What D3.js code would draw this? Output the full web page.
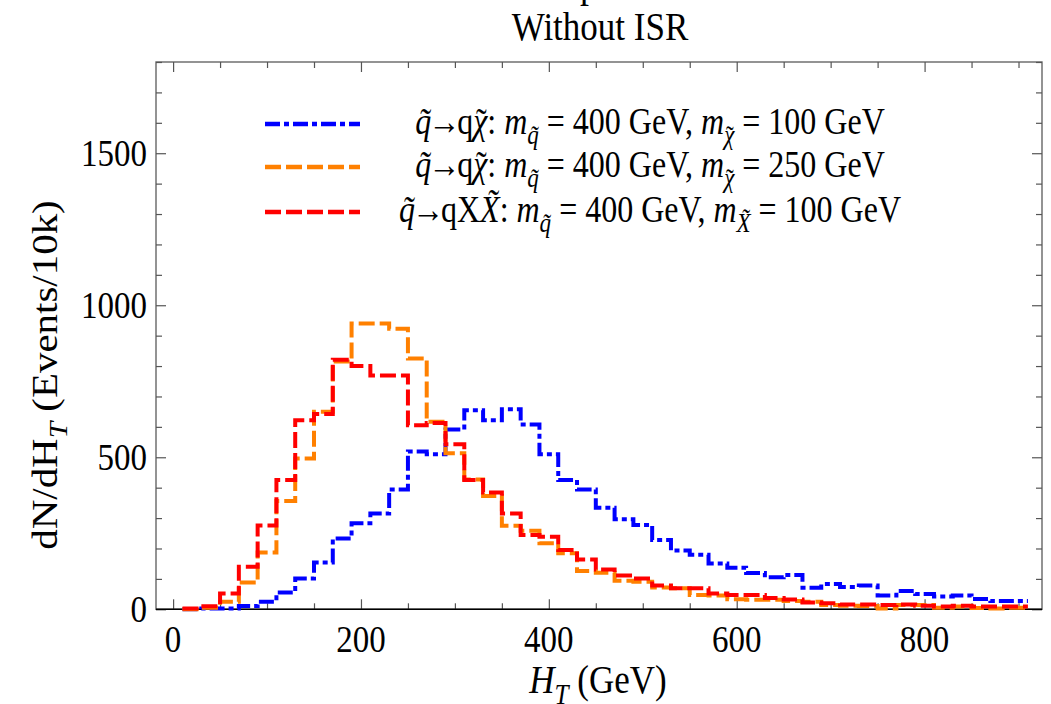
<!DOCTYPE html>
<html><head><meta charset="utf-8">
<script src="https://cdn.jsdelivr.net/npm/d3@7"></script>
<style>body{margin:0;background:#fff} svg{display:block}</style>
</head><body>
<svg id="c" width="1051" height="704"></svg>
<script>
// ---- data ----
const binCenters = [20,40,60,80,100,120,140,160,180,200,220,240,260,280,300,320,340,360,380,400,420,440,460,480,500,520,540,560,580,600,620,640,660,680,700,720,740,760,780,800,820,840,860,880,900];
const binWidth = 20;
const blueValues   = [0,3,3,11,25,55,101,154,233,283,315,394,519,510,591,655,622,658,608,510,425,394,334,296,277,228,193,179,151,137,119,105,113,71,83,73,78,45,60,50,42,45,34,27,27];
const orangeValues = [0,5,25,88,187,356,496,650,815,940,940,923,825,617,513,427,373,275,258,217,184,126,120,94,91,72,69,47,45,33,31,31,27,25,14,12,11,3,14,14,5,9,4,3,5];
const redValues    = [3,10,52,140,276,425,622,642,821,800,769,769,605,613,543,425,384,315,244,239,195,164,131,111,101,78,69,69,52,47,47,37,32,22,20,16,16,14,16,12,9,12,9,9,9];
const xTickValues = [0,200,400,600,800];
const yTickValues = [0,500,1000,1500];
const xDomain = [-18.2, 925];
const yDomain = [0, 1800];
const titleText = "Without ISR";
// segments: t=text, i=italic, s=subscript, tl=manual tilde over this glyph (glyph width in em), a=arrow
const legendLabels = [
  [{t:"q\u0303",i:1},{t:"\u2192",a:1},{t:"q"},{t:"\u03C7",i:1,tl:0.5},{t:": "},{t:"m",i:1},{t:"q\u0303",i:1,s:1},{t:" = 400 GeV, "},{t:"m",i:1},{t:"\u03C7",i:1,s:1,tl:0.5},{t:" = 100 GeV"}],
  [{t:"q\u0303",i:1},{t:"\u2192",a:1},{t:"q"},{t:"\u03C7",i:1,tl:0.5},{t:": "},{t:"m",i:1},{t:"q\u0303",i:1,s:1},{t:" = 400 GeV, "},{t:"m",i:1},{t:"\u03C7",i:1,s:1,tl:0.5},{t:" = 250 GeV"}],
  [{t:"q\u0303",i:1},{t:"\u2192",a:1},{t:"qX"},{t:"X\u0303",i:1},{t:": "},{t:"m",i:1},{t:"q\u0303",i:1,s:1},{t:" = 400 GeV, "},{t:"m",i:1},{t:"X\u0303",i:1,s:1},{t:" = 100 GeV"}]
];
const seriesColors = ["#0000ff","#ff8000","#ff0000"];
const seriesDash = ["15,4,5,4","16,5","16,5"];

// ---- layout ----
const L=156, R=1042, T=62, B=609.3;
const K=1.17; // vertical text stretch
const FONT="'Liberation Serif','Times New Roman',serif";
const svg=d3.select("#c");
const x=d3.scaleLinear().domain(xDomain).range([L,R]);
const y=d3.scaleLinear().domain(yDomain).range([B,T]);

function richText(parent, px, py, segs, size, anchor, rot){
  const g=parent.append("g").attr("transform",`translate(${px},${py}) scale(1,${K})`+(rot?` rotate(${rot})`:""));
  const t=g.append("text").attr("font-family",FONT).attr("font-size",size).attr("text-anchor",anchor||"start").attr("fill","#000");
  let cur=0, pendDx=0;
  segs.forEach(s=>{
    const fs=s.s?size*0.72:size;
    const target=s.s?size*0.28:0;
    const sp=t.append("tspan").text(s.t).attr("font-size",fs);
    if(target!==cur){ sp.attr("dy",target-cur); cur=target; }
    let dx=pendDx; pendDx=0;
    if(s.a){ dx-=3; pendDx=-3; }
    if(dx) sp.attr("dx",dx);
    if(s.i) sp.attr("font-style","italic");
    if(s.tl){
      const cw=s.tl*fs, tw=0.333*fs, sk=0.06*fs;
      const tilde=t.append("tspan").text("\u02DC").attr("font-size",fs)
        .attr("dx",-(cw/2+tw/2)+sk).attr("dy",fs*0.02);
      cur+=fs*0.02;
      const back=target-cur;
      pendDx += cw/2 - tw/2 - sk;
      // restore baseline on next tspan
      cur=cur; // next tspan handles dy relative to cur
    }
  });
  return t;
}

// cut-off line of upper title
richText(svg, 589, -3, [{t:"p"}], 36, "middle");
// title
richText(svg, 600, 40, [{t:titleText}], 35, "middle");

// frame
svg.append("rect").attr("x",L).attr("y",T).attr("width",R-L).attr("height",B-T)
  .attr("fill","none").attr("stroke","#666").attr("stroke-width",1.4);

// axes
const xt=d3.range(0,901,50), yt=d3.range(0,1801,100);
const ax=svg.append("g").attr("transform",`translate(0,${B})`).call(d3.axisBottom(x).tickValues(xt).tickFormat(""));
const axT=svg.append("g").attr("transform",`translate(0,${T})`).call(d3.axisTop(x).tickValues(xt).tickFormat(""));
const ay=svg.append("g").attr("transform",`translate(${L},0)`).call(d3.axisLeft(y).tickValues(yt).tickFormat(""));
const ayR=svg.append("g").attr("transform",`translate(${R},0)`).call(d3.axisRight(y).tickValues(yt).tickFormat(""));
[ax,axT,ay,ayR].forEach(a=>{a.select(".domain").remove(); a.selectAll("line").attr("stroke","#555").attr("stroke-width",1.2);});
ax.selectAll(".tick line").attr("y2",d=>d%200===0?-10:-6);
axT.selectAll(".tick line").attr("y2",d=>d%200===0?10:6);
ay.selectAll(".tick line").attr("x2",d=>d%500===0?10:6);
ayR.selectAll(".tick line").attr("x2",d=>d%500===0?-10:-6);
// zero axis line
svg.append("line").attr("x1",L).attr("x2",R).attr("y1",y(0)).attr("y2",y(0)).attr("stroke","#000").attr("stroke-width",1.5);

// tick labels
xTickValues.forEach(v=>richText(svg, x(v), 652, [{t:String(v)}], 33, "middle"));
yTickValues.forEach(v=>richText(svg, 147, y(v)+13, [{t:String(v)}], 33, "end"));

// axis titles
richText(svg, 598, 693, [{t:"H",i:1},{t:"T",i:1,s:1},{t:" (GeV)"}], 35, "middle");
richText(svg, 57, 375, [{t:"dN/dH"},{t:"T",i:1,s:1},{t:" (Events/10k)"}], 35, "middle", -90);

// histograms
const line=d3.line().x(d=>x(d[0])).y(d=>y(d[1])).curve(d3.curveStepAfter);
function pts(vals){const p=binCenters.map((c,i)=>[c-binWidth/2,vals[i]]); p.push([binCenters[binCenters.length-1]+binWidth/2, vals[vals.length-1]]); return p;}
[blueValues,orangeValues,redValues].forEach((vals,i)=>{
  svg.append("path").attr("d",line(pts(vals))).attr("fill","none")
    .attr("stroke",seriesColors[i]).attr("stroke-width",4).attr("stroke-dasharray",seriesDash[i]);
});

// legend
const legY=[124,167,212];
legendLabels.forEach((lab,i)=>{
  svg.append("line").attr("x1",265).attr("x2",360).attr("y1",legY[i]).attr("y2",legY[i])
    .attr("stroke",seriesColors[i]).attr("stroke-width",4.5).attr("stroke-dasharray",seriesDash[i]);
  richText(svg, 650, legY[i]+10, lab, 32, "middle");
});
</script>
</body></html>
